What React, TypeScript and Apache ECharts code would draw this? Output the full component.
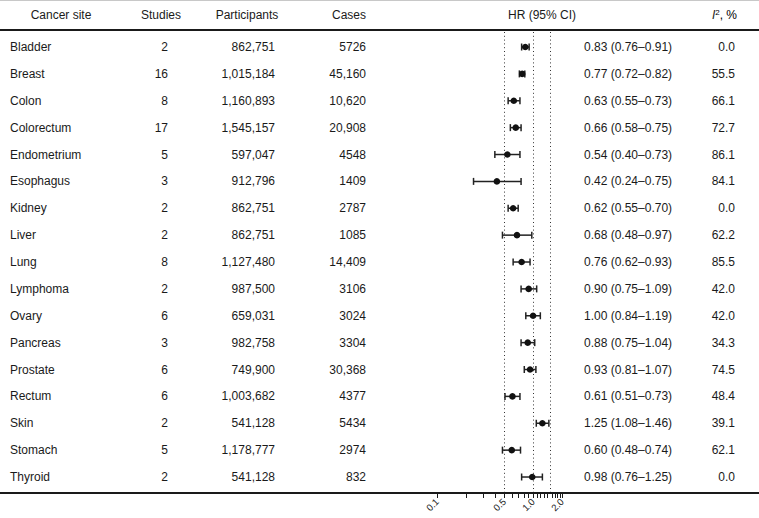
import React, { useEffect, useRef } from "react";
import * as echarts from "echarts";

const sites = ["Bladder", "Breast", "Colon", "Colorectum", "Endometrium", "Esophagus", "Kidney", "Liver", "Lung", "Lymphoma", "Ovary", "Pancreas", "Prostate", "Rectum", "Skin", "Stomach", "Thyroid"];
const studies = [2, 16, 8, 17, 5, 3, 2, 2, 8, 2, 6, 3, 6, 6, 2, 5, 2];
const participants = [862751, 1015184, 1160893, 1545157, 597047, 912796, 862751, 862751, 1127480, 987500, 659031, 982758, 749900, 1003682, 541128, 1178777, 541128];
const cases = [5726, 45160, 10620, 20908, 4548, 1409, 2787, 1085, 14409, 3106, 3024, 3304, 30368, 4377, 5434, 2974, 832];
const hr = [0.83, 0.77, 0.63, 0.66, 0.54, 0.42, 0.62, 0.68, 0.76, 0.90, 1.00, 0.88, 0.93, 0.61, 1.25, 0.60, 0.98];
const lo = [0.76, 0.72, 0.55, 0.58, 0.40, 0.24, 0.55, 0.48, 0.62, 0.75, 0.84, 0.75, 0.81, 0.51, 1.08, 0.48, 0.76];
const hi = [0.91, 0.82, 0.73, 0.75, 0.73, 0.75, 0.70, 0.97, 0.93, 1.09, 1.19, 1.04, 1.07, 0.73, 1.46, 0.74, 1.25];
const i2 = [0.0, 55.5, 66.1, 72.7, 86.1, 84.1, 0.0, 62.2, 85.5, 42.0, 42.0, 34.3, 74.5, 48.4, 39.1, 62.1, 0.0];
const refLines = [0.5, 1.0, 1.5];
const tickValues = [0.1, 0.2, 0.3, 0.4, 0.5, 0.6, 0.7, 0.8, 0.9, 1.0, 1.1, 1.2, 1.3, 1.4, 1.5, 1.6, 1.7, 1.8, 1.9, 2.0];
const tickLabels = [0.1, 0.5, 1.0, 1.5, 2.0];

const FONT = "'Liberation Sans', Arial, Helvetica, sans-serif";
const INK = "#1a1a1a";
const L = (v: number) => Math.log10(v);
const XMIN = L(0.1);
const XMAX = L(2.0);
const YMIN = -0.633;
const YMAX = 16.595;

const fmtBig = (n: number) => n.toLocaleString("en-US");
const fmtCases = (n: number) => (n >= 10000 ? n.toLocaleString("en-US") : String(n));
const f2 = (n: number) => n.toFixed(2);

export default function App() {
  const ref = useRef<HTMLDivElement>(null);
  useEffect(() => {
    if (!ref.current) return;
    const chart = echarts.init(ref.current, null, { renderer: "svg" });
    const W = 759;
    const txt = (x: number, y: number, text: string, align: string, extra: any = {}) => ({
      type: "text",
      x,
      y,
      style: { text, x: 0, y: 0, align, verticalAlign: "middle", font: `12px ${FONT}`, fill: INK, ...extra },
    });
    const rowData = sites.map((s, i) => [i, XMIN]);
    const ebData = sites.map((s, i) => [i, L(hr[i]), L(lo[i]), L(hi[i])]);
    const option: any = {
      animation: false,
      backgroundColor: "#ffffff",
      grid: { left: 437, right: W - 437 - 125, top: 30, bottom: 25, containLabel: false },
      xAxis: {
        type: "value",
        position: "bottom",
        min: XMIN,
        max: XMAX,
        axisLine: { show: false, onZero: false },
        splitLine: { show: false },
        axisTick: {
          show: true,
          length: 5,
          inside: false,
          customValues: tickValues.map(L),
          lineStyle: { color: INK, width: 1 },
        },
        axisLabel: {
          show: true,
          rotate: 45,
          margin: 7,
          hideOverlap: false,
          showMinLabel: true,
          showMaxLabel: true,
          customValues: tickLabels.map(L),
          formatter: (v: number) => Math.pow(10, v).toFixed(1),
          fontFamily: FONT,
          fontSize: 9.5,
          color: INK,
        },
      },
      yAxis: { type: "value", inverse: true, min: YMIN, max: YMAX, show: false },
      graphic: [
        { type: "line", shape: { x1: 0, y1: 0.5, x2: W, y2: 0.5 }, style: { stroke: "#c8c8c8", lineWidth: 1 } },
        { type: "line", shape: { x1: 0, y1: 30, x2: W, y2: 30 }, style: { stroke: INK, lineWidth: 2 } },
        { type: "line", shape: { x1: 0, y1: 493, x2: W, y2: 493 }, style: { stroke: INK, lineWidth: 2 } },
        txt(61, 15, "Cancer site", "center"),
        txt(161, 15, "Studies", "center"),
        txt(247, 15, "Participants", "center"),
        txt(366, 15, "Cases", "right"),
        txt(542, 15, "HR (95% CI)", "center"),
        {
          type: "text",
          x: 737,
          y: 15,
          style: {
            text: "{i|I}{s|2}{n|, %}",
            align: "right",
            verticalAlign: "middle",
            rich: {
              i: { fontFamily: FONT, fontSize: 12, fontStyle: "italic", fill: INK, color: INK },
              s: { fontFamily: FONT, fontSize: 8, verticalAlign: "top", padding: [0, 0, 6, 0], color: INK },
              n: { fontFamily: FONT, fontSize: 12, color: INK },
            },
          },
        },
      ],
      series: [
        {
          type: "custom",
          name: "refs",
          clip: false,
          silent: true,
          data: refLines.map((v) => [L(v)]),
          encode: { x: 0 },
          renderItem: (params: any, api: any) => {
            const x = api.value(0);
            const p1 = api.coord([x, YMIN]);
            const p2 = api.coord([x, YMAX]);
            return {
              type: "line",
              shape: { x1: Math.round(p1[0]) + 0.5, y1: p1[1] + 2, x2: Math.round(p2[0]) + 0.5, y2: p2[1] - 1 },
              style: { stroke: "#333", lineWidth: 1, lineDash: [1, 2.8] },
            };
          },
        },
        {
          type: "custom",
          name: "table",
          clip: false,
          silent: true,
          data: rowData,
          encode: { x: 1, y: 0 },
          renderItem: (params: any, api: any) => {
            const i = api.value(0);
            const y = api.coord([XMIN, i])[1];
            const mk = (x: number, text: string, align: string) => ({
              type: "text",
              style: { text, x, y, align, verticalAlign: "middle", font: `12px ${FONT}`, fill: INK },
            });
            return {
              type: "group",
              children: [
                mk(10, sites[i], "left"),
                mk(168, String(studies[i]), "right"),
                mk(275, fmtBig(participants[i]), "right"),
                mk(366, fmtCases(cases[i]), "right"),
                mk(584, `${f2(hr[i])} (${f2(lo[i])}\u2013${f2(hi[i])})`, "left"),
                mk(735, i2[i].toFixed(1), "right"),
              ],
            };
          },
        },
        {
          type: "custom",
          name: "HR",
          clip: false,
          data: ebData,
          encode: { x: [1, 2, 3], y: 0 },
          renderItem: (params: any, api: any) => {
            const i = api.value(0);
            const c = api.coord([api.value(1), i]);
            const a = api.coord([api.value(2), i]);
            const b = api.coord([api.value(3), i]);
            const cap = 3.5;
            const ls = { stroke: "#222", lineWidth: 1.5 };
            return {
              type: "group",
              children: [
                { type: "line", shape: { x1: a[0], y1: a[1], x2: b[0], y2: b[1] }, style: ls },
                { type: "line", shape: { x1: a[0], y1: a[1] - cap, x2: a[0], y2: a[1] + cap }, style: ls },
                { type: "line", shape: { x1: b[0], y1: b[1] - cap, x2: b[0], y2: b[1] + cap }, style: ls },
                { type: "circle", shape: { cx: c[0], cy: c[1], r: 3.3 }, style: { fill: "#111" } },
              ],
            };
          },
        },
      ],
    };
    chart.setOption(option);
    return () => chart.dispose();
  }, []);
  return (
    <div
      ref={ref}
      style={{ position: "fixed", left: 0, top: 0, width: 759, height: 518, background: "#fff" }}
    />
  );
}
